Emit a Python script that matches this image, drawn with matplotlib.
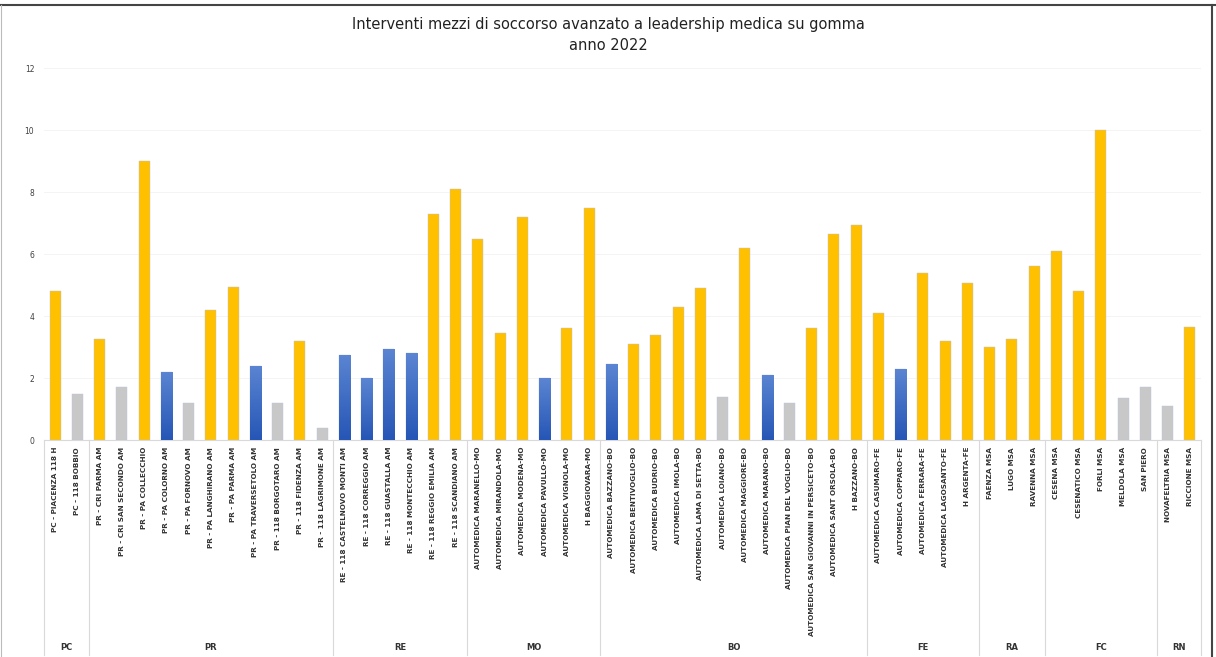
import matplotlib
matplotlib.use("Agg")
import matplotlib.pyplot as plt
from matplotlib.lines import Line2D
from matplotlib.colors import LinearSegmentedColormap
import matplotlib.transforms as mtransforms
import numpy as np

title = "Interventi mezzi di soccorso avanzato a leadership medica su gomma\nanno 2022"

categories = [
    "PC - PIACENZA 118 H", "PC - 118 BOBBIO",
    "PR - CRI PARMA AM", "PR - CRI SAN SECONDO AM", "PR - PA COLLECCHIO", "PR - PA COLORNO AM",
    "PR - PA FORNOVO AM", "PR - PA LANGHIRANO AM", "PR - PA PARMA AM", "PR - PA TRAVERSETOLO AM",
    "PR - 118 BORGOTARO AM", "PR - 118 FIDENZA AM", "PR - 118 LAGRIMONE AM",
    "RE - 118 CASTELNOVO MONTI AM", "RE - 118 CORREGGIO AM", "RE - 118 GUASTALLA AM",
    "RE - 118 MONTECCHIO AM", "RE - 118 REGGIO EMILIA AM", "RE - 118 SCANDIANO AM",
    "AUTOMEDICA MARANELLO-MO", "AUTOMEDICA MIRANDOLA-MO", "AUTOMEDICA MODENA-MO",
    "AUTOMEDICA PAVULLO-MO", "AUTOMEDICA VIGNOLA-MO", "H BAGGIOVARA-MO",
    "AUTOMEDICA BAZZANO-BO", "AUTOMEDICA BENTIVOGLIO-BO", "AUTOMEDICA BUDRIO-BO",
    "AUTOMEDICA IMOLA-BO", "AUTOMEDICA LAMA DI SETTA-BO", "AUTOMEDICA LOIANO-BO",
    "AUTOMEDICA MAGGIORE-BO", "AUTOMEDICA MARANO-BO", "AUTOMEDICA PIAN DEL VOGLIO-BO",
    "AUTOMEDICA SAN GIOVANNI IN PERSICETO-BO", "AUTOMEDICA SANT ORSOLA-BO", "H BAZZANO-BO",
    "AUTOMEDICA CASUMARO-FE", "AUTOMEDICA COPPARO-FE", "AUTOMEDICA FERRARA-FE",
    "AUTOMEDICA LAGOSANTO-FE", "H ARGENTA-FE",
    "FAENZA MSA", "LUGO MSA", "RAVENNA MSA",
    "CESENA MSA", "CESENATICO MSA", "FORLI MSA", "MELDOLA MSA", "SAN PIERO",
    "NOVAFELTRIA MSA", "RICCIONE MSA",
]

values = [
    4.8, 1.5,
    3.25, 1.7, 9.0, 2.2, 1.2, 4.2, 4.95, 2.4, 1.2, 3.2, 0.4,
    2.75, 2.0, 2.95, 2.8, 7.3, 8.1,
    6.5, 3.45, 7.2, 2.0, 3.6, 7.5,
    2.45, 3.1, 3.4, 4.3, 4.9, 1.4, 6.2, 2.1, 1.2, 3.6, 6.65, 6.95,
    4.1, 2.3, 5.4, 3.2, 5.05,
    3.0, 3.25, 5.6,
    6.1, 4.8, 10.0, 1.35, 1.7,
    1.1, 3.65,
]

kinds = [
    "Y", "G",
    "Y", "G", "Y", "B", "G", "Y", "Y", "B", "G", "Y", "G",
    "B", "B", "B", "B", "Y", "Y",
    "Y", "Y", "Y", "B", "Y", "Y",
    "B", "Y", "Y", "Y", "Y", "G", "Y", "B", "G", "Y", "Y", "Y",
    "Y", "B", "Y", "Y", "Y",
    "Y", "Y", "Y",
    "Y", "Y", "Y", "G", "G",
    "G", "Y",
]

groups = ["PC", "PR", "RE", "MO", "BO", "FE", "RA", "FC", "RN"]
group_sizes = [2, 11, 6, 6, 12, 5, 3, 5, 2]

yticks = [0, 2, 4, 6, 8, 10, 12]

palette = {"Y": "#FFC000", "G": "#C8C8C8", "B": "#3F6DC5"}
blue_cmap = LinearSegmentedColormap.from_list("bl", ["#2656B6", "#5B85D2"])

W, H = 1216, 657
fig = plt.figure(figsize=(W / 100, H / 100), dpi=100)
left, right = 44 / W, 1201 / W
bottom, top = 1 - 440 / H, 1 - 68 / H
ax = fig.add_axes([left, bottom, right - left, top - bottom])

x = list(range(len(categories)))
bars = ax.bar(x, values, width=0.5, color=[palette[k] for k in kinds],
              edgecolor="#B8C4E0", linewidth=0.3, zorder=3)

# vertical gradient on the blue bars (as in the Excel original)
grad = np.linspace(0, 1, 64).reshape(-1, 1)
for patch, k in zip(bars.patches, kinds):
    if k != "B":
        continue
    x0, y0 = patch.get_x(), patch.get_y()
    w, h = patch.get_width(), patch.get_height()
    im = ax.imshow(grad, cmap=blue_cmap, origin="lower", aspect="auto",
                   extent=[x0, x0 + w, y0, y0 + h], zorder=3.5)
    im.set_clip_path(patch)

ax.set_xlim(-0.5, len(categories) - 0.5)
ax.set_ylim(0, 12)
ax.set_yticks(yticks)
ax.set_yticklabels([str(t) for t in yticks], fontsize=5.5, color="#404040")
ax.tick_params(axis="y", length=0, pad=7)
ax.grid(axis="y", color="#F2F2F2", linewidth=0.6, zorder=0)

ax.set_xticks(x)
ax.set_xticklabels(categories, rotation=90, fontsize=5.2, color="#333333",
                   fontweight="bold", va="top", ha="center")
ax.tick_params(axis="x", length=0, pad=5)

for s in ["top", "right", "left"]:
    ax.spines[s].set_visible(False)
ax.spines["bottom"].set_color("#D9D9D9")
ax.spines["bottom"].set_linewidth(0.8)

trans = mtransforms.blended_transform_factory(ax.transData, ax.transAxes)
ax_h_px = 440 - 68
y_bottom = -(H - 2 - 440) / ax_h_px
y_glabel = -(648 - 440) / ax_h_px

start = 0
bounds = [-0.5]
for g, n in zip(groups, group_sizes):
    center = start + (n - 1) / 2
    ax.text(center, y_glabel, g, transform=trans, ha="center", va="center",
            fontsize=6, color="#333333", fontweight="bold")
    start += n
    bounds.append(start - 0.5)

for b in bounds:
    ax.add_line(Line2D([b, b], [0, y_bottom], transform=trans, color="#D9D9D9",
                       linewidth=0.8, clip_on=False))

fig.text(0.5, 1 - 35 / H, title, ha="center", va="center", fontsize=10.5,
         color="#222222", linespacing=1.5)

# screenshot frame
fig.add_artist(Line2D([0, 1], [1 - 5 / H, 1 - 5 / H], transform=fig.transFigure,
                      color="#444444", linewidth=1.5))
fig.add_artist(Line2D([1 - 4 / W, 1 - 4 / W], [0, 1 - 5 / H], transform=fig.transFigure,
                      color="#444444", linewidth=1.5))
fig.add_artist(Line2D([1 / W, 1 / W], [0, 1 - 5 / H], transform=fig.transFigure,
                      color="#BBBBBB", linewidth=0.8))

fig.savefig("out.png", dpi=100, facecolor="white")
